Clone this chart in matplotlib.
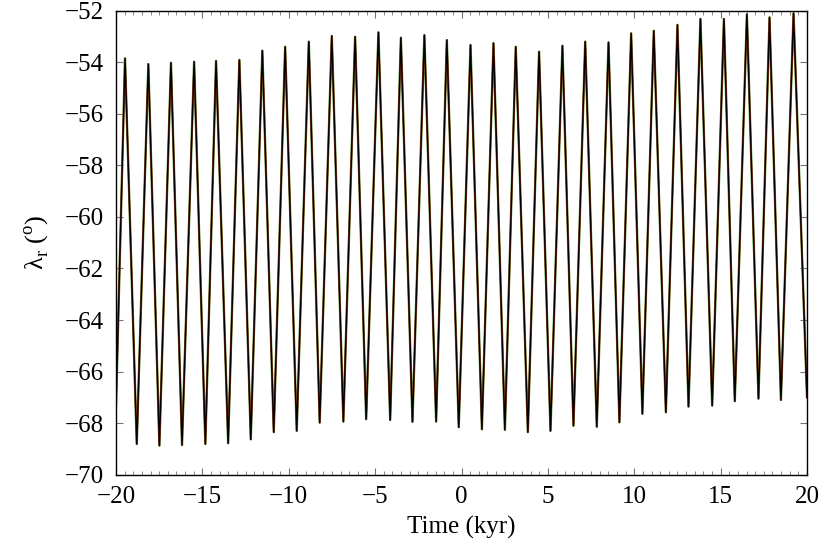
import matplotlib
matplotlib.use("Agg")
import matplotlib.pyplot as plt
from matplotlib.ticker import MultipleLocator

plt.rcParams["font.family"] = ["Liberation Serif", "DejaVu Serif"]
plt.rcParams["mathtext.fontset"] = "custom"
plt.rcParams["mathtext.rm"] = "Liberation Serif"

# curve endpoints (kyr, deg)
t_start, v_start = -20.0, -67.3
t_end, v_end = 20.0, -67.0

# maxima
peak_t = [-19.48, -18.13, -16.82, -15.48, -14.21, -12.86, -11.53, -10.21, -8.84, -7.51,
          -6.16, -4.81, -3.51, -2.15, -0.85, 0.52, 1.85, 3.14, 4.49, 5.84,
          7.16, 8.51, 9.82, 11.13, 12.50, 13.83, 15.19, 16.52, 17.83, 19.22]
peak_v = [-53.85, -54.07, -54.02, -53.98, -53.95, -53.91, -53.55, -53.40, -53.20, -52.98,
          -53.01, -52.84, -53.05, -52.95, -53.14, -53.33, -53.26, -53.40, -53.59, -53.36,
          -53.20, -53.23, -52.88, -52.78, -52.55, -52.32, -52.32, -52.14, -52.26, -52.10]

# minima
trough_t = [-18.80, -17.49, -16.18, -14.83, -13.51, -12.20, -10.87, -9.54, -8.21, -6.84,
            -5.52, -4.13, -2.84, -1.47, -0.16, 1.18, 2.51, 3.84, 5.15, 6.48,
            7.83, 9.14, 10.47, 11.83, 13.14, 14.51, 15.82, 17.19, 18.49]
trough_v = [-68.81, -68.87, -68.85, -68.81, -68.78, -68.63, -68.35, -68.30, -67.98, -67.94,
            -67.85, -67.88, -67.95, -67.94, -68.16, -68.24, -68.26, -68.35, -68.30, -68.10,
            -68.14, -67.97, -67.64, -67.58, -67.36, -67.32, -67.15, -67.05, -67.10]

# put the extrema in time order
t = [t_start]
v = [v_start]
for i in range(len(peak_t)):
    t.append(peak_t[i]); v.append(peak_v[i])
    if i < len(trough_t):
        t.append(trough_t[i]); v.append(trough_v[i])
t.append(t_end); v.append(v_end)

fig = plt.figure(figsize=(8.3, 5.53), dpi=100)
ax = fig.add_axes([0.1398, 0.1416, 0.8325, 0.8391])

ax.plot(t, v, color="#e0301e", lw=1.2, zorder=2)
ax.plot(t, v, color="#3a8f3a", lw=1.7, zorder=1)
ax.plot(t, v, color="black", lw=1.0, zorder=4)

ax.set_xlim(-20, 20)
ax.set_ylim(-70, -52)
ax.xaxis.set_major_locator(MultipleLocator(5))
ax.xaxis.set_minor_locator(MultipleLocator(0.5))
ax.yaxis.set_major_locator(MultipleLocator(2))
ax.tick_params(which="both", direction="in", top=True, right=True, color="0.45",
               labelsize=18)
ax.tick_params(axis="y", pad=9)
ax.tick_params(axis="x", pad=8)
ax.tick_params(which="major", length=5)
ax.tick_params(which="minor", length=2.7)
for s in ax.spines.values():
    s.set_linewidth(1.0)

ax.set_xlabel("Time (kyr)", fontsize=18, labelpad=6)
ax.set_ylabel("λ$_\\mathrm{r}$ ($^\\mathrm{o}$)", fontsize=19, labelpad=10)

fig.savefig("out.png", dpi=100)
